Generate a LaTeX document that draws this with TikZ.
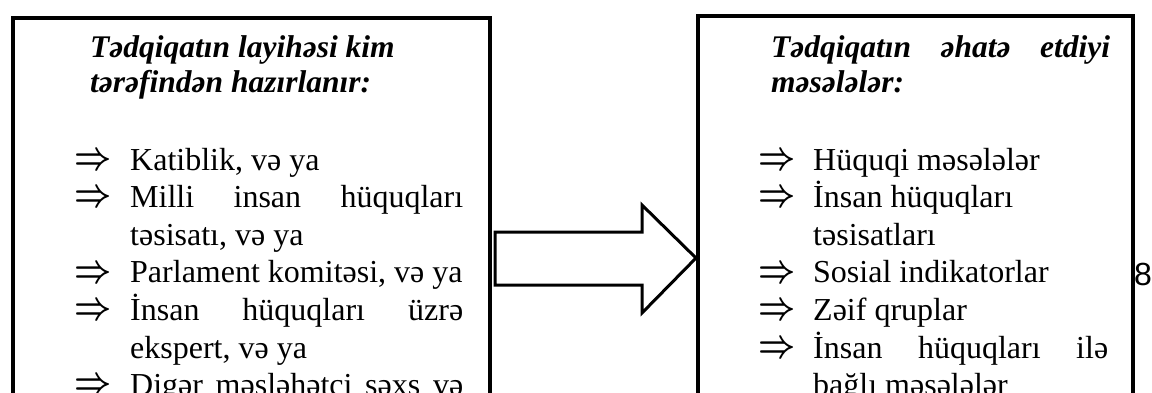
\documentclass[tikz,border=0pt]{standalone}
\usepackage{fontspec}
\setmainfont{Liberation Serif}
\setsansfont{Liberation Sans}
\begin{document}
\begin{tikzpicture}[x=1pt,y=-1pt,
  boxframe/.style={draw, line width=4.2pt, inner sep=0pt, anchor=north west},
  body/.style={inner sep=0pt, anchor=base west, font=\fontsize{32}{37.6}\selectfont},
  titleline/.style={body, font=\fontsize{31.5}{37.6}\selectfont\bfseries\itshape},
  bullet/.style={inner sep=0pt, anchor=center, font=\fontsize{25}{25}\selectfont\mathversion{bold}},
  blockarrow/.style={draw, line width=3pt, fill=white, line join=miter}
]
\clip (0,0) rectangle (1152,392);
\fill[white] (0,0) rectangle (1152,392);

% the two frames run on past the lower edge
\node[boxframe, minimum width=476.5pt, minimum height=460pt] (lbox) at (11,16) {};
\node[boxframe, minimum width=435pt, minimum height=460pt] (rbox) at (696,14) {};

% hollow block arrow from the first frame to the second
\coordinate (tip) at (rbox.west |- 0,258);
\draw[blockarrow] (495,232) -- (642,232) -- (642,205) -- (tip) -- (642,313) -- (642,285) -- (495,285) -- cycle;

% left frame: heading
\node[titleline] (lt1) at (90,57.5) {Tədqiqatın layihəsi kim};
\node[titleline] (lt2) at (90,92.5) {tərəfindən hazırlanır:};

% left frame: list
\node[body] (l1) at (130,170) {Katiblik, və ya};
\node[body] (l2) at (130,207.6) {\makebox[333pt][s]{Milli insan hüquqları}};
\node[body] (l3) at (130,245.2) {təsisatı, və ya};
\node[body] (l4) at (130,282.8) {Parlament komitəsi, və ya};
\node[body] (l5) at (130,320.4) {\makebox[333pt][s]{İnsan hüquqları üzrə}};
\node[body] (l6) at (130,358) {ekspert, və ya};
\node[body] (l7) at (130,395.6) {\makebox[333pt][s]{Digər məsləhətçi şəxs və}};
\foreach \n/\y in {a/170, b/207.6, c/282.8, d/320.4, e/395.6}
  \node[bullet] (la\n) at (93,\y-8.5) {\scalebox{1.3}[1.6]{$\Rightarrow$}};

% right frame: heading
\node[titleline] (rt1) at (771,57.5) {\makebox[339pt][s]{Tədqiqatın əhatə etdiyi}};
\node[titleline] (rt2) at (771,92.5) {məsələlər:};

% right frame: list
\node[body] (r1) at (813,170) {Hüquqi məsələlər};
\node[body] (r2) at (813,207.6) {İnsan hüquqları};
\node[body] (r3) at (813,245.2) {təsisatları};
\node[body] (r4) at (813,282.8) {Sosial indikatorlar};
\node[body] (r5) at (813,320.4) {Zəif qruplar};
\node[body] (r6) at (813,358) {\makebox[295pt][s]{İnsan hüquqları ilə}};
\node[body] (r7) at (813,395.6) {bağlı məsələlər};
\foreach \n/\y in {a/170, b/207.6, c/282.8, d/320.4, e/358}
  \node[bullet] (ra\n) at (777,\y-8.5) {\scalebox{1.3}[1.6]{$\Rightarrow$}};

% page number
\node[body, font=\fontsize{32}{32}\sffamily] (pg) at (1134,285) {8};
\end{tikzpicture}
\end{document}
